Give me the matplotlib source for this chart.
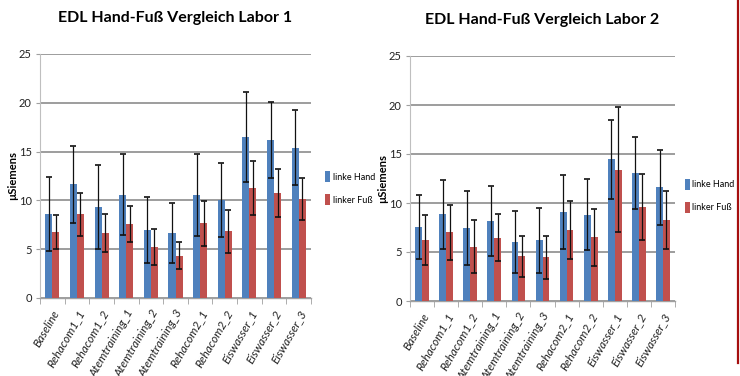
import numpy as np
import matplotlib
matplotlib.use("Agg")
import matplotlib.pyplot as plt

# --------------------------------------------------
# Data
# --------------------------------------------------
categories = ["Baseline", "Rehacom1_1", "Rehacom1_2", "Atemtraining_1",
              "Atemtraining_2", "Atemtraining_3", "Rehacom2_1", "Rehacom2_2",
              "Eiswasser_1", "Eiswasser_2", "Eiswasser_3"]

lab1_hand = [8.6, 11.65, 9.35, 10.6, 6.95, 6.65, 10.6, 10.0, 16.5, 16.15, 15.4]
lab1_hand_err = [3.8, 3.95, 4.3, 4.15, 3.4, 3.1, 4.2, 3.8, 4.65, 3.9, 3.85]
lab1_foot = [6.8, 8.6, 6.65, 7.6, 5.2, 4.35, 7.65, 6.85, 11.3, 10.75, 10.1]
lab1_foot_err = [1.75, 2.2, 1.95, 1.85, 1.85, 1.4, 2.3, 2.2, 2.75, 2.5, 2.15]

lab2_hand = [7.55, 8.85, 7.45, 8.15, 6.0, 6.2, 9.1, 8.8, 14.45, 13.05, 11.6]
lab2_hand_err = [3.3, 3.5, 3.8, 3.55, 3.15, 3.3, 3.8, 3.6, 4.0, 3.65, 3.85]
lab2_foot = [6.25, 7.0, 5.55, 6.45, 4.55, 4.45, 7.25, 6.5, 13.4, 9.6, 8.25]
lab2_foot_err = [2.55, 2.8, 2.7, 2.4, 2.1, 2.2, 3.0, 2.9, 6.35, 3.4, 2.95]

series_names = ["linke Hand", "linker Fuß"]
titles = ["EDL Hand-Fuß Vergleich Labor 1", "EDL Hand-Fuß Vergleich Labor 2"]

BLUE = "#4F81BD"
RED = "#C0504D"
GRID = "#8C8C8C"

plt.rcParams["font.family"] = ["Lato", "DejaVu Sans"]


def draw_panel(fig, rect, title, hand, hand_err, foot, foot_err, legend_pos):
    ax = fig.add_axes(rect)
    x = np.arange(len(categories))
    w = 0.285

    ax.bar(x - w / 2, hand, w, color=BLUE, zorder=3, label=series_names[0])
    ax.bar(x + w / 2, foot, w, color=RED, zorder=3, label=series_names[1])
    ekw = dict(fmt="none", ecolor="#111111", elinewidth=0.9, capsize=2.2,
               capthick=1.2, zorder=4)
    ax.errorbar(x - w / 2, hand, yerr=hand_err, **ekw)
    ax.errorbar(x + w / 2, foot, yerr=foot_err, **ekw)

    ax.set_xlim(-0.5, len(categories) - 0.5)
    ax.set_ylim(0, 25)
    ax.set_yticks(np.arange(0, 26, 5))
    ax.yaxis.grid(True, color=GRID, linewidth=1.2, zorder=0)
    ax.set_axisbelow(True)

    for s in ["top", "right"]:
        ax.spines[s].set_visible(False)
    ax.spines["left"].set_color("#BFBFBF")
    ax.spines["bottom"].set_color("#A0A0A0")
    ax.spines["bottom"].set_linewidth(1.0)

    ax.tick_params(axis="y", length=3, color="#A0A0A0", labelsize=8,
                   pad=3, labelcolor="#222222")
    ax.set_xticks(x)
    ax.set_xticklabels(categories, rotation=60, ha="right", va="top",
                       rotation_mode="anchor", fontsize=8.5, style="italic",
                       color="#222222")
    ax.tick_params(axis="x", length=0, pad=7)
    ax.set_xticks(np.arange(-0.5, len(categories)), minor=True)
    ax.tick_params(axis="x", which="minor", length=4, color="#A0A0A0")

    ax.set_ylabel("µSiemens", fontsize=8, fontweight="bold")
    ax.yaxis.set_label_coords(-0.082, 0.5)
    ax.set_title(title, fontsize=11.5, fontweight="bold", pad=23)

    ax.legend(loc="center left", bbox_to_anchor=legend_pos, frameon=False,
              fontsize=6.5, handlelength=0.5, handleheight=1.5,
              handletextpad=0.3, labelspacing=1.3, borderaxespad=0)
    return ax


fig = plt.figure(figsize=(7.4, 3.76), dpi=100)

# axes rects in figure fraction: left chart x 40-311, y 54-298 px
draw_panel(fig, [40 / 740, 1 - 298 / 376, 271 / 740, 244 / 376],
           titles[0], lab1_hand, lab1_hand_err, lab1_foot, lab1_foot_err,
           (1.04, 0.45))
draw_panel(fig, [410 / 740, 1 - 301 / 376, 265 / 740, 245 / 376],
           titles[1], lab2_hand, lab2_hand_err, lab2_foot, lab2_foot_err,
           (1.025, 0.43))

# red border line on the right edge
fig.add_artist(plt.Line2D([738 / 740, 738 / 740], [1 - 363 / 376, 1.0],
                          transform=fig.transFigure, color="#A50F0F",
                          linewidth=1.6))

fig.savefig("out.png", dpi=100)
